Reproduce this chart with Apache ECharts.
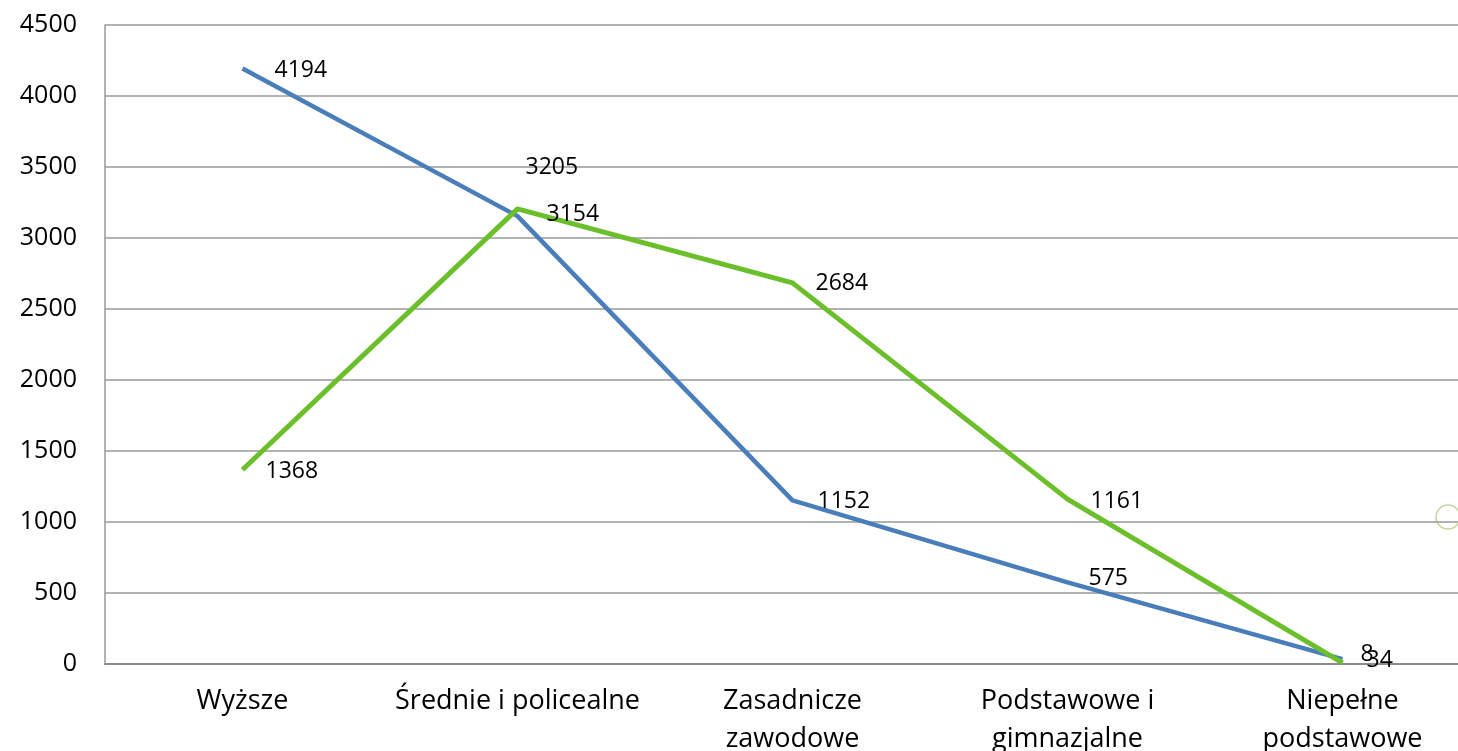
<html>
<head>
  <meta charset='utf-8' />
  <script src="https://cdn.jsdelivr.net/npm/echarts@6/dist/echarts.min.js"></script>
</head>
<body style="margin: 0; background-color: #ffffff">
  <div id="main" style="width: 1458px; height: 751px;"></div>
  <script type="text/javascript">
    var categories = ['Wyższe', 'Średnie i policealne', 'Zasadnicze\nzawodowe', 'Podstawowe i\ngimnazjalne', 'Niepełne\npodstawowe'];
    var blueValues = [4194, 3154, 1152, 575, 34];
    var greenValues = [1368, 3205, 2684, 1161, 8];
    var yTicks = {min: 0, max: 4500, interval: 500};

    // label nudges (Excel moved a few to avoid overlap)
    var blueNudge = [[8, 2], [5, -2], [1, 1], [-3, -4], [0, 1]];
    var greenNudge = [[-1, 2], [-16, -41], [-1, 1], [-1, 2], [-6, -8]];

    var font = 'Open Sans';

    function withLabels(values, nudge) {
        return values.map(function(v, i) {
            return {value: v, label: {offset: nudge[i]}};
        });
    }

    function lineSeries(name, color, width, values, nudge) {
        return {
            name: name, type: 'line', symbol: 'circle', symbolSize: 0.1, showSymbol: true,
            lineStyle: {color: color, width: width},
            itemStyle: {color: color},
            label: {show: true, position: 'right', distance: 24, color: '#000', fontFamily: font, fontSize: 23},
            data: withLabels(values, nudge)
        };
    }

    var myChart = echarts.init(document.getElementById('main'));
    myChart.setOption({
        animation: false,
        grid: {left: 105, top: 25, bottom: 87, width: 1375, outerBoundsMode: 'none', containLabel: false},
        xAxis: {
            type: 'category', data: categories, boundaryGap: true,
            axisLine: {lineStyle: {color: '#8c8c8c', width: 2}},
            axisTick: {show: false},
            axisLabel: {color: '#000', fontFamily: font, fontSize: 27, margin: 18, lineHeight: 38, interval: 0}
        },
        yAxis: {
            type: 'value', min: yTicks.min, max: yTicks.max, interval: yTicks.interval,
            axisLine: {show: true, lineStyle: {color: '#999', width: 1.5}},
            axisTick: {show: false},
            splitLine: {lineStyle: {color: '#999', width: 1.5}},
            axisLabel: {color: '#000', fontFamily: font, fontSize: 25, margin: 28, formatter: function(v) { return String(v); }}
        },
        graphic: [{
            type: 'circle', shape: {cx: 1448, cy: 517, r: 12},
            style: {fill: 'none', stroke: '#c2d69b', lineWidth: 1.5}
        }],
        series: [
            lineSeries('blue', '#4a7ebb', 4.5, blueValues, blueNudge),
            lineSeries('green', '#6abf2a', 5, greenValues, greenNudge)
        ]
    });
  </script>
</body>
</html>
